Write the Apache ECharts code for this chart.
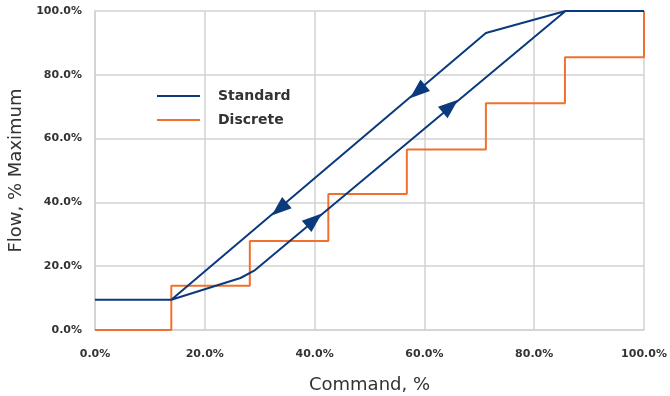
<!DOCTYPE html>
<html><head><meta charset="utf-8">
<script src="https://cdn.jsdelivr.net/npm/echarts@6/dist/echarts.min.js"></script>
<style>html,body{margin:0;padding:0;background:#fff}#c{width:670px;height:396px}</style>
</head><body><div id="c"></div>
<script>
// Standard (hysteresis loop): rising path then falling path, [command %, flow %]
var standardData = [[0,9.5],[13.9,9.5],[26.5,16.3],[29,18.6],[85.7,100],[100,100],[85.7,100],[71.2,93.1],[13.9,9.5]];
// Discrete steps
var discreteData = [[0,0],[13.9,13.9],[28.2,27.9],[42.5,42.6],[56.8,56.6],[71.2,71.1],[85.6,85.5],[100,100]];
// Direction arrows placed on the Standard line
var arrowsDown = [[59.2,75.6],[34.0,38.8]];
var arrowsUp = [[64.3,69.3],[39.5,33.6]];

var blue = '#0b3a7c', orange = '#f0712d', gridC = '#d2d2d2', txt = '#333333';
var font = 'DejaVu Sans';
// arrowhead shapes (pointing down-left / up-right along the ~40° lines)
var arrowDownPath = 'path://M-15.3,12.9L4.8,5.7L-4.8,-5.7Z';
var arrowUpPath = 'path://M15.3,-12.9L-4.8,-5.7L4.8,5.7Z';
function pct(v){ return v.toFixed(1) + '%'; }
var chart = echarts.init(document.getElementById('c'));
chart.setOption({
  animation: false,
  grid: {left: 95, right: 26, top: 11, bottom: 66, containLabel: false, outerBoundsMode: 'none'},
  legend: {
    data: ['Standard','Discrete'], orient: 'vertical', left: 152, top: 84,
    icon: 'rect', itemWidth: 43, itemHeight: 2, itemGap: 10,
    textStyle: {fontFamily: font, fontWeight: 'bold', fontSize: 14, lineHeight: 14, color: txt, padding: [0,0,0,13]}
  },
  xAxis: {
    type: 'value', min: 0, max: 100, interval: 20,
    name: 'Command, %', nameLocation: 'middle', nameGap: 46,
    nameTextStyle: {fontFamily: font, fontSize: 18, color: txt},
    axisLine: {show: true, lineStyle: {color: gridC, width: 1.5}},
    axisTick: {show: false},
    splitLine: {show: true, lineStyle: {color: gridC, width: 1.5}},
    axisLabel: {margin: 19, fontFamily: font, fontWeight: 'bold', fontSize: 11, color: txt, formatter: pct}
  },
  yAxis: {
    type: 'value', min: 0, max: 100, interval: 20,
    name: 'Flow, % Maximum', nameLocation: 'middle', nameGap: 69,
    nameTextStyle: {fontFamily: font, fontSize: 18, color: txt},
    axisLine: {show: true, lineStyle: {color: gridC, width: 1.5}},
    axisTick: {show: false},
    splitLine: {show: true, lineStyle: {color: gridC, width: 1.5}},
    axisLabel: {margin: 13, fontFamily: font, fontWeight: 'bold', fontSize: 11, color: txt, formatter: pct}
  },
  series: [
    {name: 'Discrete', type: 'line', step: 'end', data: discreteData, symbol: 'none',
     lineStyle: {color: orange, width: 2}, itemStyle: {color: orange}, z: 2},
    {name: 'Standard', type: 'line', data: standardData, symbol: 'none',
     lineStyle: {color: blue, width: 2}, itemStyle: {color: blue}, z: 3},
    {name: 'arrowDown', type: 'scatter', data: arrowsDown, symbol: arrowDownPath, symbolSize: [20.1,18.6],
     itemStyle: {color: blue, opacity: 1}, z: 4},
    {name: 'arrowUp', type: 'scatter', data: arrowsUp, symbol: arrowUpPath, symbolSize: [20.1,18.6],
     itemStyle: {color: blue, opacity: 1}, z: 4}
  ]
});
</script></body></html>
